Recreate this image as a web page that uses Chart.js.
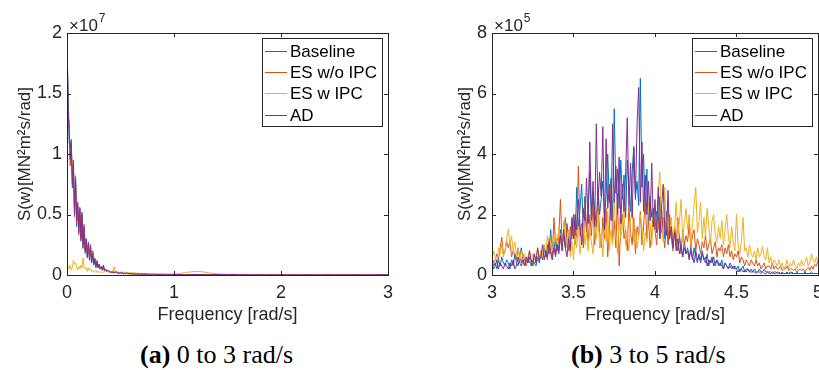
<!DOCTYPE html>
<html>
<head>
<meta charset="utf-8">
<script src="https://cdn.jsdelivr.net/npm/chart.js@4.4.0/dist/chart.umd.min.js"></script>
<style>
  html, body { margin: 0; padding: 0; background: #fff; overflow: hidden; width: 819px; height: 370px; }
  canvas { position: absolute; top: 0; }
  .cap { position: absolute; top: 340px; line-height: 30px; font-family: 'Liberation Serif', 'Times New Roman', serif; font-size: 26px; color: #000; white-space: nowrap; }
</style>
</head>
<body>
<canvas id="chartA" width="400" height="330" style="left:0;width:400px;height:330px"></canvas>
<canvas id="chartB" width="420" height="330" style="left:410px;width:420px;height:330px"></canvas>
<div class="cap" style="left:140px"><b>(a)</b> 0 to 3 rad/s</div>
<div class="cap" style="left:571px"><b>(b)</b> 3 to 5 rad/s</div>
<script>
// series names + MATLAB default colours
const seriesNames = ['Baseline', 'ES w/o IPC', 'ES w IPC', 'AD'];
const seriesColors = ['#0072BD', '#D95319', '#EDB120', '#7E2F8E'];

// (a) 0 to 3 rad/s, values in 1e7 MN^2m^2s/rad
// grid: 0..1 every 0.01, then 1.05..3 every 0.05
const freqA = [];
for (let i = 0; i <= 100; i++) freqA.push(i / 100);
for (let j = 1; j <= 40; j++) freqA.push(1 + j * 0.05);

const baselineA = [
  1.85,1.57,1.1,1.05,1.12,0.72,0.9,0.55,0.78,0.4,0.58,0.38,0.5,0.28,0.52,0.22,0.38,0.18,0.28,0.14,
  0.27,0.15,0.22,0.1,0.2,0.08,0.14,0.06,0.1,0.07,0.08,0.05,0.06,0.04,0.07,0.03,0.05,0.03,0.04,0.03,
  0.025,0.02,0.03,0.015,0.02,0.02,0.025,0.015,0.02,0.012,0.018,0.012,0.015,0.01,0.012,0.01,0.015,0.008,0.012,0.01,
  0.008,0.01,0.007,0.009,0.006,0.01,0.007,0.006,0.008,0.006,0.008,0.005,0.007,0.008,0.005,0.006,0.004,0.007,0.005,0.004,
  0.006,0.004,0.005,0.004,0.005,0.004,0.003,0.005,0.004,0.003,0.004,0.003,0.005,0.003,0.004,0.003,0.004,0.003,0.003,0.004,0.003,
  0.003,0.004,0.003,0.004,0.003,0.003,0.004,0.003,0.002,0.003,0.003,0.002,0.003,0.002,0.003,0.002,0.002,0.003,0.002,0.002,
  0.002,0.002,0.003,0.002,0.002,0.002,0.002,0.002,0.003,0.002,0.002,0.002,0.002,0.002,0.002,0.002,0.003,0.003,0.003,0.004
];
const esNoIpcA = [
  2.0,1.3,1.28,0.9,1.05,0.8,0.92,0.48,0.82,0.43,0.57,0.33,0.56,0.3,0.48,0.23,0.42,0.2,0.3,0.17,
  0.25,0.13,0.24,0.11,0.19,0.09,0.12,0.08,0.11,0.06,0.09,0.05,0.07,0.05,0.08,0.04,0.05,0.03,0.04,0.03,
  0.03,0.025,0.02,0.03,0.02,0.025,0.02,0.02,0.015,0.02,0.015,0.02,0.012,0.015,0.01,0.015,0.012,0.01,0.012,0.008,
  0.012,0.009,0.01,0.008,0.01,0.007,0.009,0.008,0.006,0.009,0.007,0.006,0.008,0.006,0.007,0.005,0.007,0.006,0.005,0.006,
  0.005,0.006,0.004,0.005,0.006,0.004,0.005,0.004,0.005,0.004,0.004,0.005,0.004,0.003,0.005,0.004,0.003,0.004,0.004,0.003,0.004,
  0.004,0.003,0.004,0.004,0.003,0.004,0.003,0.003,0.004,0.003,0.003,0.003,0.002,0.003,0.003,0.002,0.003,0.002,0.003,0.002,
  0.003,0.002,0.002,0.003,0.002,0.002,0.003,0.002,0.002,0.003,0.002,0.002,0.003,0.002,0.002,0.003,0.003,0.003,0.004,0.004
];
const esIpcA = [
  0.06,0.07,0.05,0.08,0.04,0.06,0.12,0.09,0.1,0.06,0.04,0.07,0.05,0.08,0.06,0.14,0.07,0.05,0.06,0.03,
  0.06,0.04,0.05,0.03,0.04,0.02,0.03,0.04,0.02,0.03,0.02,0.03,0.02,0.025,0.02,0.03,0.04,0.025,0.03,0.02,
  0.03,0.025,0.035,0.03,0.07,0.03,0.025,0.02,0.03,0.02,0.025,0.02,0.03,0.015,0.02,0.025,0.015,0.02,0.015,0.02,
  0.02,0.015,0.025,0.015,0.02,0.012,0.018,0.015,0.01,0.015,0.012,0.01,0.015,0.01,0.012,0.008,0.012,0.01,0.008,0.01,
  0.008,0.01,0.007,0.01,0.008,0.006,0.009,0.007,0.01,0.008,0.007,0.009,0.006,0.008,0.007,0.01,0.008,0.006,0.009,0.007,0.008,
  0.012,0.02,0.025,0.03,0.028,0.022,0.015,0.01,0.008,0.006,0.007,0.005,0.006,0.005,0.004,0.005,0.004,0.005,0.004,0.003,
  0.004,0.003,0.004,0.003,0.003,0.004,0.003,0.003,0.002,0.003,0.003,0.002,0.003,0.002,0.003,0.002,0.002,0.003,0.002,0.002
];
const adA = [
  1.9,1.35,1.2,0.95,1.1,0.75,0.95,0.5,0.8,0.45,0.6,0.35,0.55,0.3,0.5,0.25,0.4,0.2,0.3,0.15,
  0.27,0.12,0.25,0.1,0.18,0.09,0.13,0.07,0.12,0.06,0.09,0.05,0.07,0.04,0.08,0.04,0.05,0.03,0.04,0.03,
  0.03,0.02,0.03,0.02,0.025,0.02,0.03,0.015,0.02,0.015,0.02,0.015,0.02,0.01,0.015,0.01,0.02,0.01,0.015,0.01,
  0.01,0.012,0.008,0.01,0.007,0.012,0.008,0.006,0.01,0.007,0.009,0.006,0.008,0.01,0.006,0.007,0.005,0.008,0.006,0.005,
  0.007,0.005,0.006,0.004,0.006,0.005,0.004,0.006,0.005,0.004,0.005,0.004,0.006,0.004,0.005,0.003,0.005,0.004,0.003,0.004,0.004,
  0.004,0.003,0.004,0.005,0.003,0.004,0.003,0.004,0.003,0.003,0.004,0.003,0.003,0.002,0.003,0.003,0.002,0.003,0.002,0.003,
  0.002,0.003,0.002,0.002,0.003,0.002,0.002,0.002,0.003,0.002,0.002,0.002,0.002,0.003,0.002,0.002,0.002,0.003,0.003,0.003
];

// (b) 3 to 5 rad/s, values in 1e5 MN^2m^2s/rad, every 0.01 rad/s
const freqB = [];
for (let i = 0; i <= 200; i++) freqB.push((300 + i) / 100);

const baselineB = [
  0.5,0.3,0.4,0.2,0.5,0.3,0.6,0.4,0.3,0.5, 0.4,0.2,0.5,0.3,0.7,0.4,0.3,0.6,0.9,0.5,
  0.3,0.5,0.4,0.6,0.3,0.5,0.4,0.3,0.6,0.4, 0.7,0.5,0.9,0.6,1.0,0.7,1.5,0.8,1.1,0.7,
  1.2,0.8,1.5,1.0,1.3,0.9,1.7,1.2,1.0,1.4, 2.0,1.2,2.9,1.5,2.2,3.0,1.6,2.6,1.3,2.2,
  3.4,1.8,2.7,2.2,1.6,2.9,2.0,2.5,3.1,1.9, 2.6,4.0,2.4,3.2,1.8,5.5,2.7,3.5,2.2,3.8,
  2.5,3.3,1.9,3.8,2.8,2.1,3.4,4.25,2.6,3.1, 2.3,6.5,2.9,4.0,2.0,3.5,1.7,2.6,1.9,2.2,
  1.5,2.1,1.7,2.6,1.4,1.9,1.2,2.1,1.0,1.5, 1.3,0.9,1.6,1.1,0.8,1.3,0.9,0.6,1.1,0.7,
  0.9,0.6,0.8,0.5,0.9,0.6,0.4,0.7,0.5,0.8, 0.5,0.4,0.7,0.3,0.5,0.4,0.6,0.3,0.5,0.4,
  0.3,0.5,0.2,0.4,0.3,0.2,0.4,0.3,0.2,0.3, 0.2,0.3,0.1,0.2,0.3,0.1,0.2,0.2,0.1,0.2,
  0.1,0.2,0.1,0.1,0.2,0.1,0.1,0.2,0.1,0.1, 0.1,0.1,0.05,0.1,0.1,0.05,0.1,0.05,0.1,0.05,
  0.05,0.1,0.05,0.05,0.1,0.05,0.05,0.1,0.05,0.05, 0.05,0.05,0.1,0.05,0.05,0.05,0.1,0.05,0.05,0.05,
  0.05
];
const esNoIpcB = [
  0.6,0.4,0.5,0.7,0.5,0.9,1.25,0.7,0.8,1.1, 0.9,1.1,0.6,0.8,0.7,0.5,0.9,0.6,0.4,0.7,
  0.5,0.3,0.6,0.4,0.5,0.3,0.7,0.4,0.6,0.5, 0.8,0.6,1.0,0.7,0.5,1.2,0.8,0.6,1.9,1.0,
  0.8,1.3,2.5,1.0,1.4,1.9,1.1,0.8,1.6,1.2, 1.8,1.0,1.4,3.6,1.3,1.7,0.9,2.4,1.5,1.1,
  2.0,1.3,2.4,1.0,1.7,2.6,1.4,0.9,1.9,1.2, 2.2,0.6,1.5,3.0,1.1,1.8,0.9,2.7,0.3,1.6,
  2.0,1.2,1.5,0.8,2.3,1.4,1.0,1.9,0.7,1.6, 1.3,2.1,1.0,1.6,2.5,1.2,1.8,0.9,1.4,2.0,
  1.5,1.0,1.8,1.2,2.3,1.4,0.9,1.7,1.1,2.0, 1.3,0.8,1.6,1.0,1.9,1.2,0.7,1.5,1.0,1.3,
  1.1,1.7,0.9,1.3,1.5,0.8,1.2,1.0,0.7,1.1, 0.9,1.3,0.8,1.0,1.2,0.7,0.9,1.1,0.6,0.9,
  0.8,1.0,0.6,0.9,0.7,1.0,0.6,0.8,0.5,0.7, 0.6,0.8,0.4,0.6,0.5,0.3,0.5,0.4,0.3,0.5,
  0.4,0.3,0.5,0.3,0.4,0.2,0.3,0.4,0.2,0.3, 0.3,0.2,0.4,0.2,0.3,0.2,0.2,0.3,0.15,0.2,
  0.2,0.3,0.15,0.2,0.2,0.15,0.2,0.1,0.15,0.2, 0.15,0.2,0.1,0.2,0.25,0.15,0.3,0.2,0.35,0.3,
  0.5
];
const esIpcB = [
  0.5,0.8,0.6,0.4,0.9,0.7,1.0,0.6,0.8,1.2, 1.5,1.0,1.3,0.8,1.1,0.7,0.9,0.5,0.8,0.6,
  0.7,0.5,0.6,0.8,0.4,0.7,0.5,0.6,0.9,0.5, 0.8,0.6,1.0,0.7,1.3,0.9,1.2,0.8,1.1,1.4,
  1.0,1.6,1.2,0.8,1.8,1.3,0.9,1.5,0.6,1.1, 0.5,1.3,0.9,1.6,0.7,1.2,1.9,1.0,1.4,0.8,
  1.5,1.1,0.7,1.8,1.2,2.0,0.9,1.4,0.6,1.7, 1.1,2.1,0.8,1.5,1.0,2.5,1.3,0.7,1.9,1.2,
  1.6,2.3,1.0,1.4,0.8,1.8,2.2,1.1,1.5,0.9, 1.3,2.0,1.6,0.8,1.4,1.1,2.4,1.7,1.0,1.8,
  2.2,1.5,2.8,3.4,1.6,1.1,2.9,1.4,2.3,1.2, 1.9,1.0,1.6,2.4,1.3,1.8,2.5,1.1,1.7,2.2,
  1.5,2.0,1.0,1.7,2.3,2.9,1.4,1.8,2.4,1.2, 1.9,1.3,2.2,1.6,1.0,1.8,2.0,1.3,1.1,1.6,
  1.2,1.8,1.0,1.5,2.0,1.3,0.9,1.6,1.1,0.8, 2.0,1.0,0.7,1.1,1.9,0.8,0.9,0.6,1.0,0.7,
  0.6,0.8,0.5,0.9,0.6,0.7,0.95,0.6,0.5,0.9, 0.4,0.6,0.3,0.5,0.4,0.3,0.5,0.3,0.4,0.2,
  0.3,0.5,0.2,0.4,0.3,0.5,0.3,0.2,0.4,0.3, 0.5,0.3,0.4,0.6,0.3,0.4,0.7,0.5,0.4,0.6,
  0.4
];
const adB = [
  0.4,0.2,0.3,0.5,0.2,0.4,0.3,0.2,0.4,0.3, 0.2,0.4,0.3,0.5,0.2,0.3,0.6,0.4,0.3,0.5,
  0.3,0.6,0.4,0.8,0.5,0.3,0.7,0.4,0.9,0.5, 0.6,1.0,0.5,0.8,0.6,1.1,0.7,0.5,0.9,0.6,
  1.0,0.7,1.3,0.8,1.5,0.9,0.6,1.2,0.8,1.9, 1.2,2.0,1.5,2.5,1.6,1.0,2.2,1.8,3.2,1.7,
  4.4,2.0,3.1,1.6,5.0,2.3,3.4,2.6,4.9,1.5, 4.5,2.2,3.0,1.8,5.0,2.4,3.6,2.0,3.9,1.7,
  3.0,2.1,3.4,5.2,2.3,3.7,1.9,4.2,2.5,5.0, 6.2,2.4,4.4,2.1,3.3,2.0,3.1,1.8,3.7,1.6,
  2.5,1.4,2.9,1.2,2.2,3.0,1.5,1.3,2.8,1.2, 1.6,0.9,1.4,0.8,1.2,0.7,1.0,0.6,0.9,0.7,
  0.8,0.5,0.9,0.6,0.4,0.8,0.5,0.6,0.4,0.7, 0.5,0.6,0.3,0.5,0.4,0.6,0.3,0.4,0.5,0.3,
  0.4,0.3,0.2,0.4,0.3,0.2,0.3,0.2,0.3,0.2, 0.2,0.1,0.2,0.2,0.1,0.15,0.1,0.2,0.1,0.1,
  0.1,0.1,0.05,0.1,0.1,0.05,0.1,0.05,0.05,0.1, 0.05,0.05,0.1,0.05,0.05,0.1,0.05,0.05,0.05,0.05,
  0.05,0.05,0.05,0.1,0.05,0.05,0.05,0.05,0.05,0.05, 0.05,0.05,0.05,0.05,0.05,0.05,0.05,0.05,0.05,0.05,
  0.05
];

const axisColor = '#262626';
const fontFamily = "'Liberation Sans', Arial, Helvetica, sans-serif";

// MATLAB-like box, inward ticks, exponent and legend
const matlabAxes = {
  id: 'matlabAxes',
  afterDatasetsDraw(chart, args, opts) {
    const ctx = chart.ctx;
    const a = chart.chartArea;
    const xs = chart.scales.x, ys = chart.scales.y;
    ctx.save();
    ctx.strokeStyle = axisColor;
    ctx.lineWidth = 1;
    ctx.strokeRect(Math.round(a.left) + 0.5, Math.round(a.top) + 0.5,
      Math.round(a.right - a.left), Math.round(a.bottom - a.top));
    const tl = 4;
    ctx.beginPath();
    xs.ticks.forEach(t => {
      const px = Math.round(xs.getPixelForValue(t.value)) + 0.5;
      ctx.moveTo(px, a.bottom); ctx.lineTo(px, a.bottom - tl);
      ctx.moveTo(px, a.top); ctx.lineTo(px, a.top + tl);
    });
    ys.ticks.forEach(t => {
      const py = Math.round(ys.getPixelForValue(t.value)) + 0.5;
      ctx.moveTo(a.left, py); ctx.lineTo(a.left + tl, py);
      ctx.moveTo(a.right, py); ctx.lineTo(a.right - tl, py);
    });
    ctx.stroke();

    // exponent label (x10^n)
    ctx.fillStyle = axisColor;
    ctx.textBaseline = 'alphabetic';
    ctx.textAlign = 'left';
    ctx.font = '17px ' + fontFamily;
    const ex = a.left + 2, ey = a.top - 2;
    ctx.fillText('\u00d710', ex, ey);
    const w = ctx.measureText('\u00d710').width;
    ctx.font = '12px ' + fontFamily;
    ctx.fillText(opts.exponent, ex + w + 1, ey - 9);

    // legend
    const lw = 120, lh = 88;
    const lx = Math.round(a.right - 6 - lw), ly = Math.round(a.top + 5);
    ctx.fillStyle = '#fff';
    ctx.fillRect(lx, ly, lw, lh);
    ctx.strokeStyle = axisColor;
    ctx.strokeRect(lx + 0.5, ly + 0.5, lw, lh);
    ctx.font = '17px ' + fontFamily;
    ctx.textBaseline = 'middle';
    chart.data.datasets.forEach((ds, k) => {
      const ry = Math.round(ly + 13 + k * 21.2) + 0.5;
      ctx.strokeStyle = ds.borderColor;
      ctx.lineWidth = 1;
      ctx.beginPath();
      ctx.moveTo(lx + 3, ry); ctx.lineTo(lx + 25, ry);
      ctx.stroke();
      ctx.fillStyle = '#000';
      ctx.fillText(ds.label, lx + 28, ry + 1);
    });
    ctx.restore();
  }
};

const tickText = v => String(Math.round(v * 100) / 100);

function buildChart(id, freq, seriesList, xRange, yRange, yAxisWidth, yTitlePad, padRight, exponent) {
  const datasets = seriesList.map((vals, k) => ({
    label: seriesNames[k],
    data: vals.map((v, i) => ({ x: freq[i], y: v })),
    borderColor: seriesColors[k],
    borderWidth: 1,
    pointRadius: 0,
    tension: 0,
    fill: false,
    order: seriesList.length - k
  }));
  return new Chart(document.getElementById(id), {
    type: 'line',
    data: { datasets: datasets },
    options: {
      responsive: false,
      animation: false,
      events: [],
      layout: { padding: { top: 33, right: padRight, left: 0, bottom: 0 } },
      plugins: { legend: { display: false }, tooltip: { enabled: false }, matlabAxes: { exponent: exponent } },
      scales: {
        x: {
          type: 'linear',
          min: xRange[0], max: xRange[1],
          grid: { display: false, drawTicks: false },
          border: { display: false },
          ticks: { stepSize: xRange[2], callback: tickText, color: axisColor, font: { size: 18, family: fontFamily }, padding: 7, maxRotation: 0, autoSkip: false },
          title: { display: true, text: 'Frequency [rad/s]', color: axisColor, font: { size: 18, family: fontFamily }, padding: { top: 0, bottom: 4 } },
          afterFit: s => { s.height = 55; }
        },
        y: {
          min: yRange[0], max: yRange[1],
          grid: { display: false, drawTicks: false },
          border: { display: false },
          ticks: { stepSize: yRange[2], callback: tickText, color: axisColor, font: { size: 18, family: fontFamily }, padding: 5 },
          title: { display: true, text: 'S(w)[MN\u00b2m\u00b2s/rad]', color: axisColor, font: { size: 17, family: fontFamily }, padding: { top: yTitlePad, bottom: 0 } },
          afterFit: s => { s.width = yAxisWidth; }
        }
      }
    },
    plugins: [matlabAxes]
  });
}

buildChart('chartA', freqA, [baselineA, esNoIpcA, esIpcA, adA], [0, 3, 1], [0, 2, 0.5], 67, 15, 10, '7');
buildChart('chartB', freqB, [baselineB, esNoIpcB, esIpcB, adB], [3, 5, 0.5], [0, 8, 2], 82, 45, 8, '5');
</script>
</body>
</html>
